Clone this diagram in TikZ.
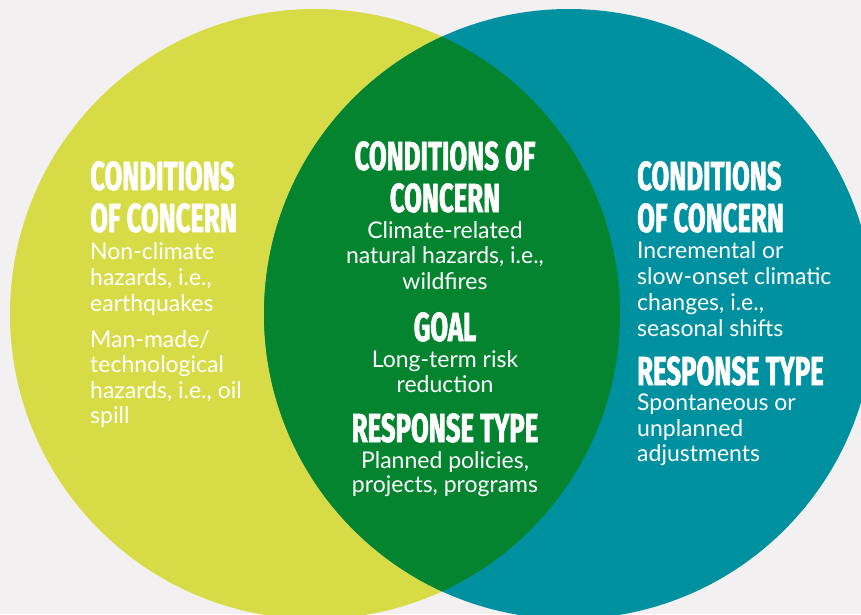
\documentclass[tikz,border=0pt]{standalone}
\usepackage{fontspec}
\setmainfont{Lato}
\newfontfamily\headfont{Fira Sans}[FakeStretch=0.635, BoldFeatures={FakeBold=1.6}]
\definecolor{bgcol}{RGB}{242,240,241}
\definecolor{limecol}{RGB}{215,220,70}
\definecolor{tealcol}{RGB}{0,145,160}
\definecolor{greencol}{RGB}{5,132,48}
\tikzset{
  head/.style={text=white, inner sep=0pt, text depth=0pt,
    font=\headfont\bfseries\fontsize{40.5}{42}\selectfont},
  body/.style={text=white, inner sep=0pt, text height=14pt,
    font=\fontsize{23}{26}\selectfont},
  lft/.style={anchor=base west},
  mid/.style={anchor=base},
}
\begin{document}
\begin{tikzpicture}[x=1pt,y=-1pt]
  % canvas
  \fill[bgcol] (0,0) rectangle (861,614);
  \useasboundingbox (0,0) rectangle (861,614);
  % the two sets
  \fill[limecol] (315,314) circle[radius=305pt];
  \fill[tealcol] (569,314) circle[radius=305pt];
  \begin{scope}
    \clip (315,314) circle[radius=305pt];
    \fill[greencol] (569,314) circle[radius=305pt];
  \end{scope}

  % left set
  \node[head,lft] (l1) at (90,190) {CONDITIONS};
  \node[head,lft] (l2) at (90,232) {OF CONCERN};
  \node[body,lft] (l3) at (90,259) {Non-climate};
  \node[body,lft] (l4) at (90,285) {hazards, i.e.,};
  \node[body,lft] (l5) at (90,311) {earthquakes};
  \node[body,lft] (l6) at (90,347) {Man-made/};
  \node[body,lft] (l7) at (90,372) {technological};
  \node[body,lft] (l8) at (90,398) {hazards, i.e., oil};
  \node[body,lft] (l9) at (90,423) {spill};

  % overlap
  \node[head,mid] (c1) at (445,170) {CONDITIONS OF};
  \node[head,mid] (c2) at (445,212) {CONCERN};
  \node[body,mid] (c3) at (445,238) {Climate-related};
  \node[body,mid] (c4) at (445,263) {natural hazards, i.e.,};
  \node[body,mid] (c5) at (445,289) {wildfires};
  \node[head,mid] (c6) at (445,341) {GOAL};
  \node[body,mid] (c7) at (445,367) {Long-term risk};
  \node[body,mid] (c8) at (445,392) {reduction};
  \node[head,mid] (c9) at (445,442) {RESPONSE TYPE};
  \node[body,mid] (c10) at (445,468) {Planned policies,};
  \node[body,mid] (c11) at (445,492) {projects, programs};

  % right set
  \node[head,lft] (r1) at (637,190) {CONDITIONS};
  \node[head,lft] (r2) at (637,232) {OF CONCERN};
  \node[body,lft] (r3) at (637,258) {Incremental or};
  \node[body,lft] (r4) at (637,284) {slow-onset climatic};
  \node[body,lft] (r5) at (637,310) {changes, i.e.,};
  \node[body,lft] (r6) at (637,336) {seasonal shifts};
  \node[head,lft] (r7) at (637,385) {RESPONSE TYPE};
  \node[body,lft] (r8) at (637,410) {Spontaneous or};
  \node[body,lft] (r9) at (637,436) {unplanned};
  \node[body,lft] (r10) at (637,461) {adjustments};
\end{tikzpicture}
\end{document}
